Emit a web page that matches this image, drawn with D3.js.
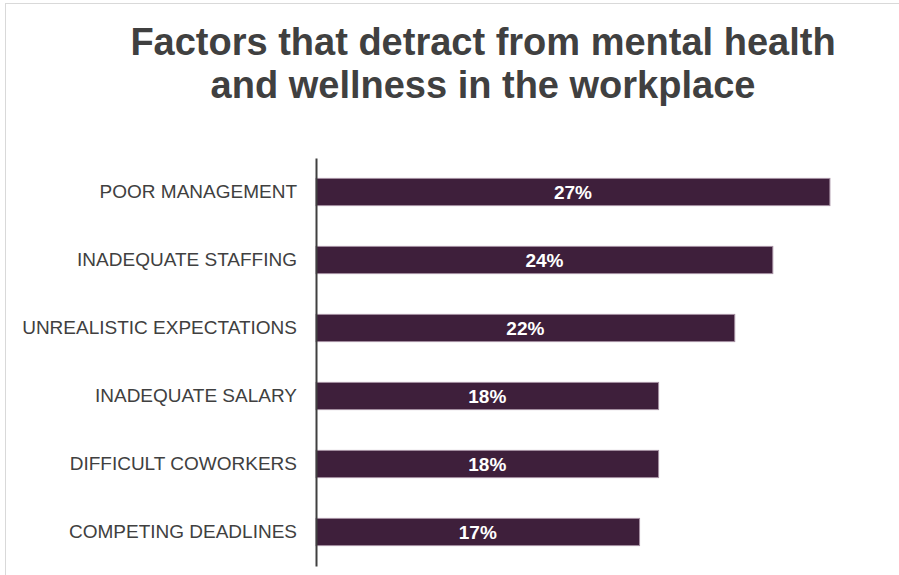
<!DOCTYPE html>
<html>
<head>
<meta charset="utf-8">
<script src="https://cdn.jsdelivr.net/npm/d3@7"></script>
<style>
  html, body { margin: 0; padding: 0; background: #fff; }
  svg { display: block; }
</style>
</head>
<body>
<svg id="chart" width="899" height="575"></svg>
<script>
// Survey results: share of respondents naming each factor
const categories = [
  "POOR MANAGEMENT",
  "INADEQUATE STAFFING",
  "UNREALISTIC EXPECTATIONS",
  "INADEQUATE SALARY",
  "DIFFICULT COWORKERS",
  "COMPETING DEADLINES"
];
const values = [27, 24, 22, 18, 18, 17];
const titleLines = ["Factors that detract from mental health", "and wellness in the workplace"];

const data = categories.map((c, i) => ({ category: c, value: values[i] }));

const svg = d3.select("#chart");
const W = 899, H = 575;
const FONT = "'Liberation Sans', Arial, sans-serif";

// chart frame
svg.append("rect")
  .attr("x", 5.5).attr("y", 3.5)
  .attr("width", W + 10).attr("height", H + 10)
  .attr("fill", "#fff")
  .attr("stroke", "#d9d9d9")
  .attr("stroke-width", 1);

// title
svg.append("text")
  .attr("text-anchor", "middle")
  .attr("font-family", FONT)
  .attr("font-weight", "bold")
  .attr("font-size", 38)
  .attr("fill", "#404040")
  .selectAll("tspan")
  .data(titleLines)
  .join("tspan")
  .attr("x", 483)
  .attr("y", (d, i) => 55 + i * 43)
  .text(d => d);

const x = d3.scaleLinear().domain([0, 30]).range([316, 887]);
const y = d3.scaleBand()
  .domain(categories)
  .range([158, 566])
  .paddingInner(0.6)
  .paddingOuter(0.3);

// bars
svg.append("g")
  .selectAll("rect")
  .data(data)
  .join("rect")
  .attr("x", x(0))
  .attr("y", d => y(d.category))
  .attr("width", d => x(d.value) - x(0))
  .attr("height", y.bandwidth())
  .attr("fill", "#3e1f3b")
  .attr("stroke", "#a58fa2")
  .attr("stroke-width", 1);

// value labels in bar centres
svg.append("g")
  .selectAll("text")
  .data(data)
  .join("text")
  .attr("x", d => (x(0) + x(d.value)) / 2)
  .attr("y", d => y(d.category) + y.bandwidth() / 2)
  .attr("dy", "0.36em")
  .attr("text-anchor", "middle")
  .attr("font-family", FONT)
  .attr("font-weight", "bold")
  .attr("font-size", 19)
  .attr("fill", "#ffffff")
  .text(d => d.value + "%");

// category axis
const yAxis = d3.axisLeft(y).tickSize(0).tickPadding(19);
const gy = svg.append("g")
  .attr("transform", `translate(${x(0)},0)`)
  .call(yAxis);
gy.select(".domain")
  .attr("stroke", "#404040")
  .attr("stroke-width", 2);
gy.selectAll(".tick text")
  .attr("font-family", FONT)
  .attr("font-size", 19)
  .attr("fill", "#404040");
</script>
</body>
</html>
